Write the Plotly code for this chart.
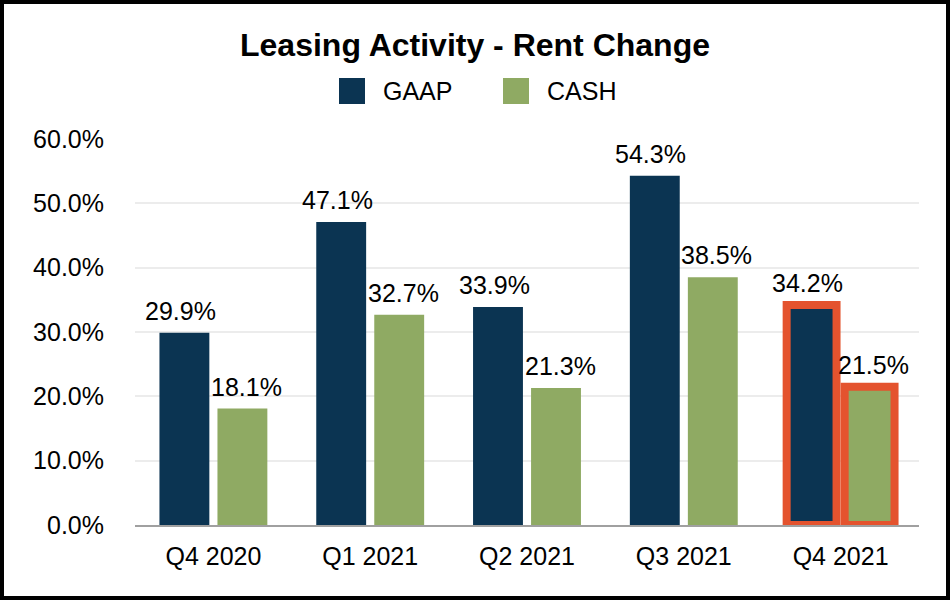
import plotly.graph_objects as go

# data
quarters = ["Q4 2020", "Q1 2021", "Q2 2021", "Q3 2021", "Q4 2021"]
gaap = [29.9, 47.1, 33.9, 54.3, 34.2]
cash = [18.1, 32.7, 21.3, 38.5, 21.5]
y_ticks = [0, 10, 20, 30, 40, 50, 60]

navy = "#0B3452"
green = "#8FAA63"
orange = "#E4532E"

# last quarter is highlighted with an orange frame
outline_w = [0, 0, 0, 0, 8]

W, H = 950, 600
ml, mr, mt, mb = 135, 31, 139, 75
pw, ph = W - ml - mr, H - mt - mb


def px_x(p):
    return (p - ml) / pw


def px_y(p):
    return 1 + (mt - p) / ph


fig = go.Figure()

fig.add_trace(go.Bar(
    x=quarters, y=gaap, name="GAAP",
    marker=dict(color=navy, line=dict(width=outline_w, color=[navy] * 4 + [orange])),
    showlegend=False, hoverinfo="x+y",
))
fig.add_trace(go.Bar(
    x=quarters, y=cash, name="CASH",
    marker=dict(color=green, line=dict(width=outline_w, color=[green] * 4 + [orange])),
    showlegend=False, hoverinfo="x+y",
))

# value labels above each bar
for series, shift in [(gaap, -33), (cash, 33)]:
    for q, v in zip(quarters, series):
        fig.add_annotation(
            x=q, y=v, text=f"{v:.1f}%", showarrow=False,
            xshift=shift, yshift=6, yanchor="bottom",
            font=dict(size=25, color="black"),
        )

# legend drawn by hand so the squares can be as big as in the reference
for nm, col, sq in [("GAAP", navy, 339), ("CASH", green, 503)]:
    fig.add_shape(type="rect", xref="paper", yref="paper",
                  x0=px_x(sq), x1=px_x(sq + 26), y0=px_y(104), y1=px_y(78),
                  fillcolor=col, line=dict(width=0))
    fig.add_annotation(xref="paper", yref="paper", x=px_x(sq + 42), y=px_y(91),
                       text=nm, showarrow=False, xanchor="left", yanchor="middle",
                       font=dict(size=25, color="black"))

# black frame around the whole picture
fig.add_shape(
    type="rect", xref="paper", yref="paper",
    x0=px_x(2), x1=px_x(W - 2), y0=px_y(H - 2), y1=px_y(2),
    line=dict(color="black", width=4), layer="above",
)

fig.update_layout(
    width=W, height=H,
    margin=dict(l=ml, r=mr, t=mt, b=mb),
    paper_bgcolor="white", plot_bgcolor="white",
    font=dict(family="Liberation Sans, Arial", size=25, color="black"),
    title=dict(text="<b>Leasing Activity - Rent Change</b>", x=0.5, xref="container",
               xanchor="center", y=1 - 45 / H, yanchor="middle", font=dict(size=32)),
    showlegend=False,
    barmode="group", bargap=0.26, bargroupgap=0.14,
    xaxis=dict(showline=True, linecolor="#A0A0A0", linewidth=2, ticks="",
               tickfont=dict(size=25), ticklabelstandoff=8),
    yaxis=dict(range=[0, 60], tickvals=y_ticks,
               ticktext=[f"{v:.1f}%" for v in y_ticks],
               showgrid=True, gridcolor="#ECECEC", gridwidth=1.5, zeroline=False,
               ticks="", tickfont=dict(size=25), ticklabelstandoff=30),
)

fig.write_html("out.html", config={"displayModeBar": False},
               post_script="document.body.style.margin='0';document.body.style.overflow='hidden';")
